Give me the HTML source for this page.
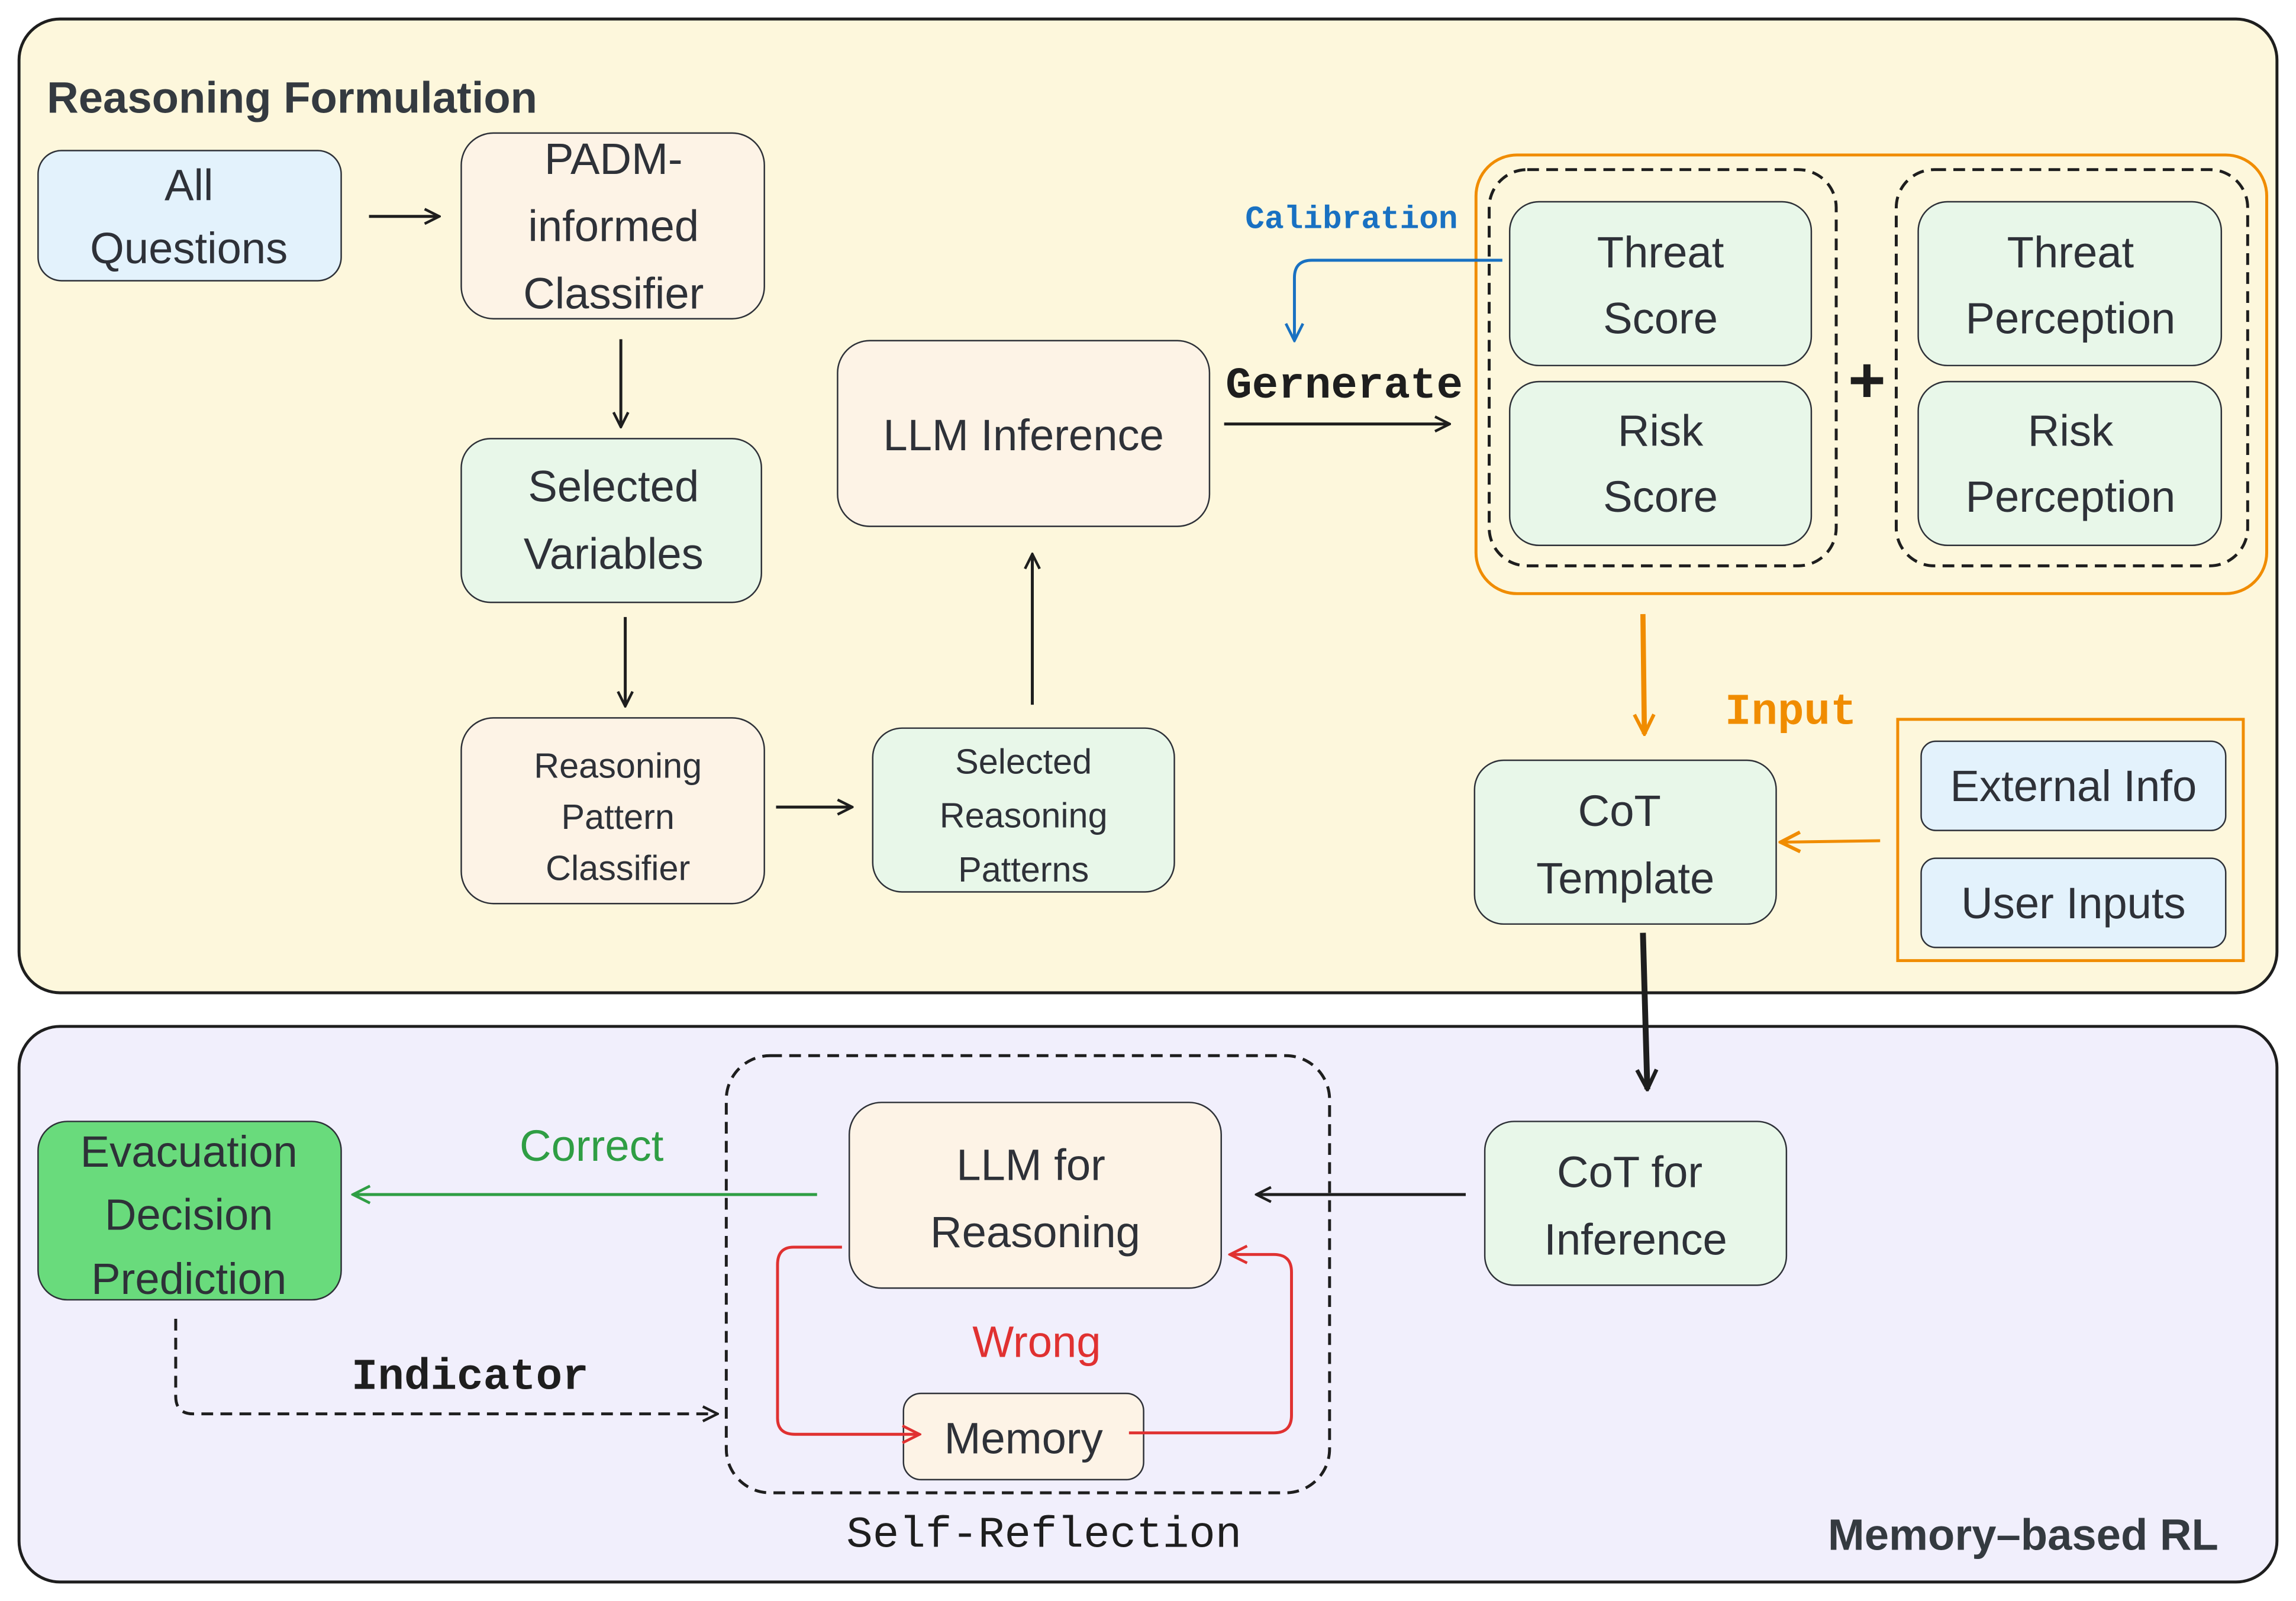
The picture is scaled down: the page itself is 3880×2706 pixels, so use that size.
<!DOCTYPE html>
<html><head><meta charset="utf-8"><style>
html,body{margin:0;padding:0;background:#fff;}
svg{display:block;}
text{font-family:"Liberation Sans",sans-serif;fill:#2e3138;}
.m{font-family:"Liberation Mono",monospace;}
</style></head><body>
<svg width="3880" height="2706" viewBox="0 0 1568 1095" preserveAspectRatio="none" xmlns="http://www.w3.org/2000/svg">
<defs>
<marker id="ak" viewBox="0 0 12 12" refX="11" refY="6" markerWidth="12" markerHeight="12" markerUnits="userSpaceOnUse" orient="auto"><path d="M1,1 L11,6 L1,11" fill="none" stroke="#1e1e1e" stroke-width="1.8"/></marker>
<marker id="ak2" viewBox="0 0 12 12" refX="11" refY="6" markerWidth="16" markerHeight="16" markerUnits="userSpaceOnUse" orient="auto"><path d="M1,1 L11,6 L1,11" fill="none" stroke="#1e1e1e" stroke-width="2"/></marker>
<marker id="ao" viewBox="0 0 12 12" refX="11" refY="6" markerWidth="16" markerHeight="16" markerUnits="userSpaceOnUse" orient="auto"><path d="M1,1 L11,6 L1,11" fill="none" stroke="#f08c00" stroke-width="1.8"/></marker>
<marker id="ab" viewBox="0 0 12 12" refX="11" refY="6" markerWidth="14" markerHeight="14" markerUnits="userSpaceOnUse" orient="auto"><path d="M1,1 L11,6 L1,11" fill="none" stroke="#1971c2" stroke-width="1.6"/></marker>
<marker id="ag" viewBox="0 0 12 12" refX="11" refY="6" markerWidth="14" markerHeight="14" markerUnits="userSpaceOnUse" orient="auto"><path d="M1,1 L11,6 L1,11" fill="none" stroke="#2f9e44" stroke-width="1.6"/></marker>
<marker id="ar" viewBox="0 0 12 12" refX="11" refY="6" markerWidth="14" markerHeight="14" markerUnits="userSpaceOnUse" orient="auto"><path d="M1,1 L11,6 L1,11" fill="none" stroke="#e03131" stroke-width="1.6"/></marker>
</defs>
<rect x="13" y="13" width="1542" height="666" rx="28" fill="#fdf7dc" stroke="#1e1e1e" stroke-width="2"/>
<rect x="13" y="702" width="1542" height="380" rx="28" fill="#f1effc" stroke="#1e1e1e" stroke-width="2"/>
<text x="32" y="77" font-size="30" font-weight="bold" style="fill:#343a40">Reasoning Formulation</text>
<text x="1515" y="1060" font-size="30" font-weight="bold" text-anchor="end" style="fill:#343a40">Memory–based RL</text>

<g stroke="#2e3138" stroke-width="1">
<rect x="26" y="103" width="207" height="89" rx="16" fill="#e3f2fc"/>
<rect x="315" y="91" width="207" height="127" rx="22" fill="#fdf3e6"/>
<rect x="315" y="300" width="205" height="112" rx="20" fill="#e8f7e9"/>
<rect x="315" y="491" width="207" height="127" rx="22" fill="#fdf3e6"/>
<rect x="596" y="498" width="206" height="112" rx="20" fill="#e8f7e9"/>
<rect x="572" y="233" width="254" height="127" rx="22" fill="#fdf3e6"/>
<rect x="1031" y="138" width="206" height="112" rx="20" fill="#e8f7e9"/>
<rect x="1031" y="261" width="206" height="112" rx="20" fill="#e8f7e9"/>
<rect x="1310" y="138" width="207" height="112" rx="20" fill="#e8f7e9"/>
<rect x="1310" y="261" width="207" height="112" rx="20" fill="#e8f7e9"/>
<rect x="1007" y="520" width="206" height="112" rx="20" fill="#e8f7e9"/>
<rect x="1312" y="507" width="208" height="61" rx="10" fill="#e3f2fc"/>
<rect x="1312" y="587" width="208" height="61" rx="10" fill="#e3f2fc"/>
<rect x="26" y="767" width="207" height="122" rx="20" fill="#69db7c"/>
<rect x="580" y="754" width="254" height="127" rx="22" fill="#fdf3e6"/>
<rect x="1014" y="767" width="206" height="112" rx="20" fill="#e8f7e9"/>
<rect x="617" y="953" width="164" height="59" rx="12" fill="#fdf3e6"/>
</g>
<rect x="1008" y="106" width="540" height="300" rx="28" fill="none" stroke="#f08c00" stroke-width="2"/>
<rect x="1017" y="116" width="237" height="271" rx="26" fill="none" stroke="#1e1e1e" stroke-width="2" stroke-dasharray="8 5"/>
<rect x="1295" y="116" width="240" height="271" rx="26" fill="none" stroke="#1e1e1e" stroke-width="2" stroke-dasharray="8 5"/>
<rect x="1296" y="492" width="236" height="165" fill="none" stroke="#f08c00" stroke-width="2"/>
<rect x="496" y="722" width="412" height="299" rx="30" fill="none" stroke="#1e1e1e" stroke-width="2" stroke-dasharray="8 5"/>

<g font-size="30" text-anchor="middle">
<text x="129" y="137">All</text><text x="129" y="180">Questions</text>
<text x="419" y="119">PADM-</text><text x="419" y="165">informed</text><text x="419" y="211">Classifier</text>
<text x="419" y="343">Selected</text><text x="419" y="389">Variables</text>
<text x="699" y="308">LLM Inference</text>
<text x="1134" y="183">Threat</text><text x="1134" y="228">Score</text>
<text x="1134" y="305">Risk</text><text x="1134" y="350">Score</text>
<text x="1414" y="183">Threat</text><text x="1414" y="228">Perception</text>
<text x="1414" y="305">Risk</text><text x="1414" y="350">Perception</text>
<text x="1106" y="565">CoT</text><text x="1110" y="611">Template</text>
<text x="1416" y="548">External Info</text>
<text x="1416" y="628">User Inputs</text>
<text x="129" y="798">Evacuation</text><text x="129" y="841">Decision</text><text x="129" y="885">Prediction</text>
<text x="704" y="807">LLM for</text><text x="707" y="853">Reasoning</text>
<text x="1113" y="812">CoT  for</text><text x="1117" y="858">Inference</text>
<text x="699" y="994">Memory</text>
</g>
<g font-size="24" text-anchor="middle">
<text x="422" y="532">Reasoning</text><text x="422" y="567">Pattern</text><text x="422" y="602">Classifier</text>
<text x="699" y="529">Selected</text><text x="699" y="566">Reasoning</text><text x="699" y="603">Patterns</text>
</g>
<text x="1275" y="275" font-size="44" font-weight="bold" text-anchor="middle" style="fill:#1e1e1e">+</text>
<text x="918" y="272" class="m" font-size="30" font-weight="bold" text-anchor="middle" style="fill:#1e1e1e">Gernerate</text>
<text x="923" y="156" class="m" font-size="22" font-weight="bold" text-anchor="middle" style="fill:#1971c2">Calibration</text>
<text x="1223" y="495" class="m" font-size="30" font-weight="bold" text-anchor="middle" style="fill:#f08c00">Input</text>
<text x="404" y="794" font-size="30" text-anchor="middle" style="fill:#2f9e44">Correct</text>
<text x="708" y="928" font-size="30" text-anchor="middle" style="fill:#e03131">Wrong</text>
<text x="321" y="950" class="m" font-size="30" font-weight="bold" text-anchor="middle" style="fill:#1e1e1e">Indicator</text>
<text x="713" y="1058" class="m" font-size="30" text-anchor="middle" style="fill:#1e1e1e">Self-Reflection</text>

<g fill="none" stroke="#1e1e1e" stroke-width="2">
<path d="M252,148 L300,148" marker-end="url(#ak)"/>
<path d="M424,232 L424,292" marker-end="url(#ak)"/>
<path d="M427,422 L427,483" marker-end="url(#ak)"/>
<path d="M530,552 L582,552" marker-end="url(#ak)"/>
<path d="M705,482 L705,379" marker-end="url(#ak)"/>
<path d="M836,290 L990,290" marker-end="url(#ak)"/>
<path d="M1122,638 L1125,745" stroke-width="4" marker-end="url(#ak2)"/>
<path d="M1001,817 L858,817" marker-end="url(#ak)"/>
<path d="M120,902 L120,955 Q120,967 132,967 L490,967" stroke-dasharray="8 5" marker-end="url(#ak)"/>
</g>
<path d="M1122,420 L1123,502" fill="none" stroke="#f08c00" stroke-width="3.5" marker-end="url(#ao)"/>
<path d="M1284,575 L1216,576" fill="none" stroke="#f08c00" stroke-width="2" marker-end="url(#ao)"/>
<path d="M1026,178 L896,178 Q884,178 884,190 L884,233" fill="none" stroke="#1971c2" stroke-width="2" marker-end="url(#ab)"/>
<path d="M558,817 L241,817" fill="none" stroke="#2f9e44" stroke-width="2" marker-end="url(#ag)"/>
<path d="M575,853 L542,853 Q531,853 531,865 L531,970 Q531,981 543,981 L628,981" fill="none" stroke="#e03131" stroke-width="2" marker-end="url(#ar)"/>
<path d="M771,980 L870,980 Q882,980 882,968 L882,870 Q882,858 870,858 L840,858" fill="none" stroke="#e03131" stroke-width="2" marker-end="url(#ar)"/>
</svg>
</body></html>
